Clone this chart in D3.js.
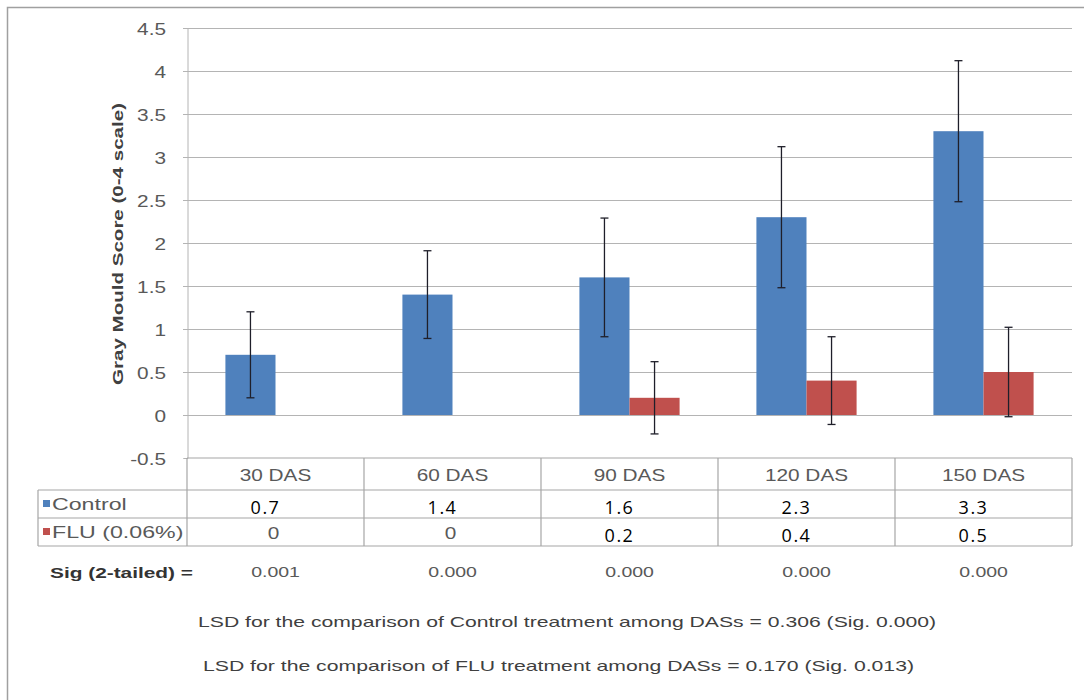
<!DOCTYPE html>
<html>
<head>
<meta charset="utf-8">
<script src="https://cdn.jsdelivr.net/npm/d3@7"></script>
<style>
  html, body { margin: 0; padding: 0; background: #fff; }
  svg { display: block; }
</style>
</head>
<body>
<svg id="chart" width="1084" height="700"></svg>
<script>
// ---------------- data ----------------
const categories = ["30 DAS", "60 DAS", "90 DAS", "120 DAS", "150 DAS"];
const seriesNames = ["Control", "FLU (0.06%)"];
const controlValues = [0.7, 1.4, 1.6, 2.3, 3.3];
const fluValues = [0, 0, 0.2, 0.4, 0.5];
const controlErrors = [0.5, 0.51, 0.69, 0.82, 0.82];
const fluErrors = [0, 0, 0.42, 0.51, 0.52];
const sigValues = ["0.001", "0.000", "0.000", "0.000", "0.000"];
const yTicks = [-0.5, 0, 0.5, 1, 1.5, 2, 2.5, 3, 3.5, 4, 4.5];
const yTitle = "Gray Mould  Score  (0-4 scale)";
const sigLabel = "Sig  (2-tailed)  =";
const lsdNotes = [
  "LSD for the comparison  of Control  treatment  among  DASs = 0.306 (Sig. 0.000)",
  "LSD for the comparison  of FLU treatment  among  DASs = 0.170 (Sig. 0.013)"
];

// ---------------- layout ----------------
const W = 1084, H = 700;
const plot = { left: 187, right: 1072, top: 28, bottom: 458 };
const tableRows = { header: 458, control: 490, flu: 518, end: 546 };
const legendLeft = 38;
const colors = ["#4F81BD", "#C0504D"];
const gridColor = "#B4B4B4";
const textGray = "#595959";
const SX = 1.3; // horizontal stretch of the original picture

const svg = d3.select("#chart");

// outer border
svg.append("rect").attr("x", 7.5).attr("y", 7.5).attr("width", W + 20).attr("height", H + 20)
  .attr("fill", "none").attr("stroke", "#A0A0A0").attr("stroke-width", 1.5);

const y = d3.scaleLinear().domain([-0.5, 4.5]).range([plot.bottom, plot.top]);
const x = d3.scaleBand().domain(categories).range([plot.left, plot.right]).paddingInner(0).paddingOuter(0);
const barW = x.bandwidth() * 0.283;
const xs = d3.scaleBand().domain(seriesNames).range([0, barW * 2]);

function stretchedText(g, px, py, str, opts) {
  const t = g.append("text")
    .attr("transform", `translate(${px},${py}) scale(${opts.sx || SX},1)`)
    .attr("text-anchor", opts.anchor || "middle")
    .attr("dominant-baseline", "central")
    .attr("font-family", opts.family || "'Liberation Sans', Arial, sans-serif")
    .attr("font-size", opts.size || 16)
    .attr("font-weight", opts.weight || "normal")
    .attr("fill", opts.fill || textGray)
    .text(str);
  return t;
}
const fmtTick = v => String(v); // plain hyphen-minus, as in the original

// gridlines
const grid = svg.append("g");
grid.selectAll("line").data(yTicks.filter(v => v > -0.5)).join("line")
  .attr("x1", plot.left - 4).attr("x2", plot.right)
  .attr("y1", d => Math.round(y(d)) + 0.5).attr("y2", d => Math.round(y(d)) + 0.5)
  .attr("stroke", gridColor).attr("stroke-width", 1);

// y axis line + ticks via d3.axisLeft
const yAxis = d3.axisLeft(y).tickValues(yTicks).tickSize(4).tickFormat("");
const axG = svg.append("g").attr("transform", `translate(${plot.left + 0.5},0)`).call(yAxis);
axG.select(".domain").attr("stroke", gridColor);
axG.selectAll(".tick line").attr("stroke", gridColor);

// tick labels
const tl = svg.append("g");
yTicks.forEach(v => {
  stretchedText(tl, 166, y(v) + 1, fmtTick(v), { anchor: "end", size: 16 });
});

// y title
svg.append("text")
  .attr("transform", `translate(118,${(103 + 385) / 2}) rotate(-90)`)
  .attr("text-anchor", "middle").attr("dominant-baseline", "central")
  .attr("font-family", "'Liberation Sans', Arial, sans-serif")
  .attr("font-size", 14).attr("font-weight", "bold").attr("fill", "#404040")
  .attr("textLength", 282).attr("lengthAdjust", "spacingAndGlyphs")
  .text(yTitle);

// bars
const seriesData = [controlValues, fluValues];
const seriesErr = [controlErrors, fluErrors];
const barsG = svg.append("g");
seriesNames.forEach((name, si) => {
  const cx = c => x(c) + x.bandwidth() / 2 - barW + xs(name);
  barsG.selectAll(null).data(categories).join("rect")
    .attr("x", c => cx(c))
    .attr("width", xs.bandwidth())
    .attr("y", (c, i) => y(Math.max(0, seriesData[si][i])))
    .attr("height", (c, i) => Math.abs(y(seriesData[si][i]) - y(0)))
    .attr("fill", colors[si]);
});

// error bars
const errG = svg.append("g").attr("stroke", "#1f1f2a").attr("stroke-width", 1.3);
seriesNames.forEach((name, si) => {
  categories.forEach((c, i) => {
    const e = seriesErr[si][i];
    if (!e) return;
    const v = seriesData[si][i];
    const mx = x(c) + x.bandwidth() / 2 - barW + xs(name) + xs.bandwidth() / 2;
    errG.append("line").attr("x1", mx).attr("x2", mx).attr("y1", y(v + e)).attr("y2", y(v - e));
    [v + e, v - e].forEach(t => {
      errG.append("line").attr("x1", mx - 4).attr("x2", mx + 4).attr("y1", y(t)).attr("y2", y(t));
    });
  });
});

// ---------------- data table ----------------
const tg = svg.append("g").attr("stroke", "#A6A6A6").attr("stroke-width", 1.2);
tg.append("line").attr("x1", plot.left).attr("x2", plot.right).attr("y1", tableRows.header).attr("y2", tableRows.header);
[tableRows.control, tableRows.flu, tableRows.end].forEach(ry => {
  tg.append("line").attr("x1", legendLeft).attr("x2", plot.right).attr("y1", ry).attr("y2", ry);
});
tg.append("line").attr("x1", legendLeft).attr("x2", legendLeft).attr("y1", tableRows.control).attr("y2", tableRows.end);
categories.concat([null]).forEach(c => {
  const vx = c === null ? plot.right : x(c);
  tg.append("line").attr("x1", vx).attr("x2", vx).attr("y1", tableRows.header).attr("y2", tableRows.end);
});

const txt = svg.append("g");
// header labels
categories.forEach(c => {
  stretchedText(txt, x(c) + x.bandwidth() / 2, (tableRows.header + tableRows.control) / 2 + 1, c, { size: 16 });
});
// legend keys
seriesNames.forEach((name, si) => {
  const ry = si === 0 ? (tableRows.control + tableRows.flu) / 2 : (tableRows.flu + tableRows.end) / 2;
  svg.append("rect").attr("x", 43).attr("y", ry - 4).attr("width", 7).attr("height", 7).attr("fill", colors[si]);
  stretchedText(txt, 52, ry, name, { anchor: "start", size: 16, sx: 1.45 });
});
// values
seriesNames.forEach((name, si) => {
  const ry = si === 0 ? (tableRows.control + tableRows.flu) / 2 : (tableRows.flu + tableRows.end) / 2;
  categories.forEach((c, i) => {
    const v = seriesData[si][i];
    const cxm = x(c) + x.bandwidth() / 2;
    if (v === 0) {
      stretchedText(txt, cxm - 2, ry + 1, String(v), { size: 16 });
    } else {
      txt.append("text")
        .attr("x", cxm - 10).attr("y", ry + 3)
        .attr("text-anchor", "middle").attr("dominant-baseline", "central")
        .attr("font-family", "'Open Sans', Lato, sans-serif")
        .attr("font-size", 18).attr("fill", "#000")
        .attr("letter-spacing", 1.5)
        .text(v);
    }
  });
});
// sig row
txt.append("text")
  .attr("x", 50).attr("y", 572).attr("dominant-baseline", "central")
  .attr("font-family", "'Liberation Sans', Arial, sans-serif")
  .attr("font-size", 15).attr("font-weight", "bold").attr("fill", "#333")
  .attr("textLength", 143).attr("lengthAdjust", "spacingAndGlyphs")
  .text(sigLabel);
categories.forEach((c, i) => {
  stretchedText(txt, x(c) + x.bandwidth() / 2, 572, sigValues[i], { size: 15 });
});

// LSD notes
const noteY = [621, 665];
const noteX = [[198, 936], [203, 914]];
lsdNotes.forEach((n, i) => {
  txt.append("text")
    .attr("x", noteX[i][0]).attr("y", noteY[i])
    .attr("dominant-baseline", "central")
    .attr("font-family", "'Liberation Sans', Arial, sans-serif")
    .attr("font-size", 15).attr("fill", "#404040")
    .attr("textLength", noteX[i][1] - noteX[i][0]).attr("lengthAdjust", "spacingAndGlyphs")
    .text(n);
});
</script>
</body>
</html>
